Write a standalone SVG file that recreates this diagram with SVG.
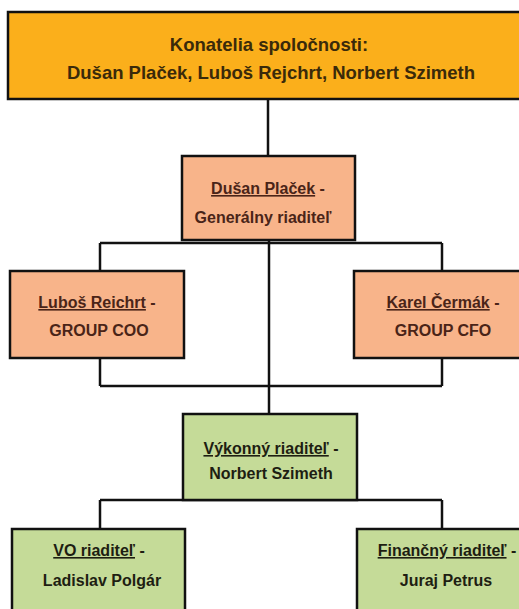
<svg xmlns="http://www.w3.org/2000/svg" width="519" height="609" viewBox="0 0 519 609">
<style>
.box{stroke:#111;stroke-width:2.5}
.top{fill:#FBAF1B}
.peach{fill:#F8B48A}
.green{fill:#C5DB98}
.t{font-family:"Liberation Sans",Arial,sans-serif;font-weight:bold;text-anchor:middle}
.tt{font-size:18.5px;fill:#3a2a0a}
.tp{font-size:16px;fill:#4a2418}
.tg{font-size:16px;fill:#1e1e12}
.u{text-decoration:underline}
.c{stroke:#111;stroke-width:2.5;fill:none}
</style>
<rect width="519" height="609" fill="#fff"/>
<g id="connectors">
<line class="c" x1="268" y1="99" x2="268" y2="156"/>
<line class="c" x1="269" y1="240" x2="269" y2="414"/>
<line class="c" x1="100" y1="243" x2="442" y2="243"/>
<line class="c" x1="100" y1="243" x2="100" y2="271"/>
<line class="c" x1="442" y1="243" x2="442" y2="271"/>
<line class="c" x1="100" y1="358" x2="100" y2="386"/>
<line class="c" x1="442" y1="358" x2="442" y2="386"/>
<line class="c" x1="100" y1="386" x2="442" y2="386"/>
<line class="c" x1="100" y1="500" x2="442" y2="500"/>
<line class="c" x1="100" y1="500" x2="100" y2="529"/>
<line class="c" x1="442" y1="500" x2="442" y2="529"/>
</g>
<g id="konatelia">
<rect class="box top" x="8" y="12" width="525" height="87"/>
<text class="t tt" x="269" y="51">Konatelia spoločnosti:</text>
<text class="t tt" x="271" y="79">Dušan Plaček, Luboš Rejchrt, Norbert Szimeth</text>
</g>
<g id="placek">
<rect class="box peach" x="182" y="156" width="173" height="84"/>
<text class="t tp" x="268" y="194"><tspan class="u">Dušan Plaček</tspan> -</text>
<text class="t tp" x="263" y="223">Generálny riaditeľ</text>
</g>
<g id="reichrt">
<rect class="box peach" x="10" y="271" width="174" height="87"/>
<text class="t tp" x="97" y="308"><tspan class="u">Luboš Reichrt</tspan> -</text>
<text class="t tp" x="99" y="336">GROUP COO</text>
</g>
<g id="cermak">
<rect class="box peach" x="354" y="271" width="180" height="87"/>
<text class="t tp" x="443" y="308"><tspan class="u">Karel Čermák</tspan> -</text>
<text class="t tp" x="443" y="336">GROUP CFO</text>
</g>
<g id="vykonny">
<rect class="box green" x="183" y="414" width="174" height="86"/>
<text class="t tg" x="271" y="454"><tspan class="u">Výkonný riaditeľ</tspan> -</text>
<text class="t tg" x="271" y="479">Norbert Szimeth</text>
</g>
<g id="polgar">
<rect class="box green" x="12" y="529" width="173" height="90"/>
<text class="t tg" x="99" y="556"><tspan class="u">VO riaditeľ</tspan> -</text>
<text class="t tg" x="102" y="586">Ladislav Polgár</text>
</g>
<g id="petrus">
<rect class="box green" x="357" y="529" width="180" height="90"/>
<text class="t tg" x="447" y="556"><tspan class="u">Finančný riaditeľ</tspan> -</text>
<text class="t tg" x="446" y="586">Juraj Petrus</text>
</g>
</svg>
